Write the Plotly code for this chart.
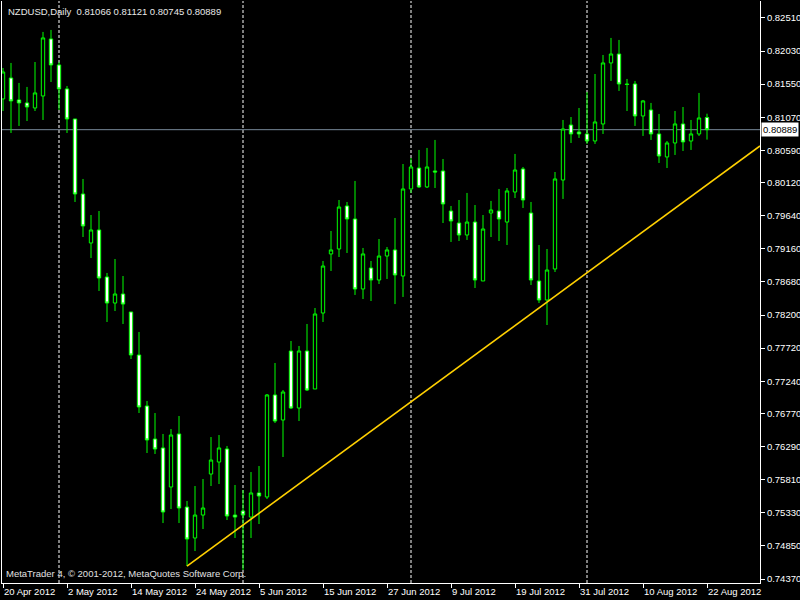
import plotly.graph_objects as go
import pandas as pd

# ---------------- data ----------------
symbol = "NZDUSD"
period = "Daily"
dates = pd.bdate_range("2012-04-20", "2012-08-22")

opens = [0.81335, 0.81639, 0.81320, 0.81277, 0.81204, 0.81378, 0.82205, 0.81828, 0.81480, 0.81044,
         0.79956, 0.79245, 0.79434, 0.78752, 0.78374, 0.78505, 0.78244, 0.77620, 0.76880, 0.76401,
         0.76271, 0.75705, 0.76474, 0.75414, 0.74965, 0.75298, 0.75893, 0.76067, 0.76256, 0.75298,
         0.75356, 0.75269, 0.75618, 0.75560, 0.77040, 0.76677, 0.77678, 0.76851, 0.77678, 0.77127,
         0.78229, 0.79086, 0.79158, 0.79782, 0.79593, 0.78578, 0.78882, 0.78708, 0.79056, 0.79144,
         0.78766, 0.80029, 0.80333, 0.80058, 0.80290, 0.80290, 0.79709, 0.79535, 0.79361, 0.79549,
         0.78694, 0.79680, 0.79709, 0.79549, 0.79985, 0.80319, 0.79680, 0.78694, 0.78418, 0.78868,
         0.80159, 0.80957, 0.80856, 0.80827, 0.80725, 0.80972, 0.81857, 0.81987, 0.81552, 0.81552,
         0.81088, 0.81175, 0.80827, 0.80493, 0.80696, 0.80972, 0.80725, 0.80827, 0.81066]

highs = [0.81784, 0.81857, 0.81567, 0.81509, 0.81871, 0.82307, 0.82336, 0.81871, 0.81523, 0.81044,
         0.80174, 0.79651, 0.79709, 0.78810, 0.79013, 0.78766, 0.78244, 0.77954, 0.76953, 0.76778,
         0.76474, 0.76546, 0.76735, 0.75502, 0.75719, 0.75821, 0.76430, 0.76459, 0.76300, 0.75734,
         0.75661, 0.75922, 0.76009, 0.77054, 0.77504, 0.77112, 0.77823, 0.77751, 0.78070, 0.78302,
         0.78984, 0.79419, 0.79869, 0.79840, 0.80145, 0.79173, 0.78984, 0.79303, 0.79187, 0.79608,
         0.80391, 0.80478, 0.80595, 0.80624, 0.80740, 0.80464, 0.79782, 0.79869, 0.79971, 0.79796,
         0.79651, 0.79855, 0.80029, 0.80043, 0.80537, 0.80348, 0.79840, 0.79216, 0.79158, 0.80275,
         0.81030, 0.81073, 0.81204, 0.81436, 0.81697, 0.81973, 0.82220, 0.82191, 0.81625, 0.81596,
         0.81320, 0.81277, 0.81117, 0.80725, 0.81160, 0.81218, 0.81030, 0.81422, 0.81121]

lows = [0.81160, 0.80841, 0.80943, 0.81015, 0.81160, 0.81030, 0.81581, 0.81175, 0.80841, 0.79840,
        0.79332, 0.79027, 0.78549, 0.78099, 0.78258, 0.78070, 0.77562, 0.76778, 0.76198, 0.76184,
        0.75182, 0.75385, 0.75182, 0.74558, 0.74776, 0.75095, 0.75719, 0.75748, 0.75226, 0.74965,
        0.74500, 0.74965, 0.75168, 0.75531, 0.76633, 0.76140, 0.76836, 0.76662, 0.77098, 0.77127,
        0.78099, 0.78839, 0.79042, 0.79100, 0.78491, 0.78432, 0.78403, 0.78650, 0.78723, 0.78359,
        0.78462, 0.79971, 0.80043, 0.80043, 0.80043, 0.79535, 0.79260, 0.79274, 0.79289, 0.78592,
        0.78694, 0.79332, 0.79274, 0.79216, 0.79898, 0.79753, 0.78636, 0.78374, 0.78055, 0.78824,
        0.79884, 0.80696, 0.80769, 0.80682, 0.80682, 0.80827, 0.81596, 0.81451, 0.81160, 0.80943,
        0.80798, 0.80740, 0.80406, 0.80333, 0.80522, 0.80580, 0.80595, 0.80798, 0.80745]

closes = [0.81726, 0.81306, 0.81277, 0.81218, 0.81422, 0.82220, 0.81828, 0.81480, 0.81044, 0.79956,
          0.79492, 0.79434, 0.78737, 0.78374, 0.78505, 0.78359, 0.77620, 0.76866, 0.76387, 0.76256,
          0.75342, 0.76459, 0.75400, 0.74950, 0.75298, 0.75400, 0.76096, 0.76271, 0.75284, 0.75269,
          0.75298, 0.75618, 0.75574, 0.77040, 0.76662, 0.77083, 0.76851, 0.77678, 0.77112, 0.78215,
          0.78911, 0.79144, 0.79767, 0.79593, 0.78578, 0.79086, 0.78708, 0.79056, 0.79144, 0.78781,
          0.80029, 0.80348, 0.80058, 0.80348, 0.80275, 0.79811, 0.79564, 0.79361, 0.79549, 0.78708,
          0.79448, 0.79724, 0.79593, 0.80000, 0.80304, 0.79869, 0.78708, 0.78418, 0.78853, 0.80174,
          0.80899, 0.80827, 0.80827, 0.80725, 0.81001, 0.81857, 0.81987, 0.81552, 0.81545, 0.81088,
          0.81306, 0.80827, 0.80507, 0.80696, 0.80972, 0.80711, 0.80827, 0.81059, 0.80889]

tick_dates = ["2012-04-20", "2012-05-02", "2012-05-14", "2012-05-24", "2012-06-05", "2012-06-15",
              "2012-06-27", "2012-07-09", "2012-07-19", "2012-07-31", "2012-08-10", "2012-08-22"]

price_ticks = [0.82510, 0.82030, 0.81550, 0.81070, 0.80590, 0.80120, 0.79640, 0.79160, 0.78680,
               0.78200, 0.77720, 0.77240, 0.76770, 0.76290, 0.75810, 0.75330, 0.74850, 0.74370]

trend_dates = ["2012-05-23", "2012-08-22"]
trend_prices = [0.74558, 0.80090]

# ---------------- layout helpers ----------------
FONT = "Liberation Sans"
FS = 9.5
X_RANGE = [-0.125, 94.625]
Y_RANGE = [0.74312, 0.82756]

date_str = [d.strftime("%Y-%m-%d") for d in dates]
pos = {d: i for i, d in enumerate(date_str)}
xi = list(range(len(dates)))

tick_idx = [pos[d] for d in tick_dates]
tick_txt = []
for d in tick_dates:
    t = pd.Timestamp(d)
    tick_txt.append(f"{t.day} {t.strftime('%b %Y')}")

fig = go.Figure()

fig.add_trace(go.Candlestick(
    x=xi, open=opens, high=highs, low=lows, close=closes,
    increasing=dict(line=dict(color="#00FF00", width=1), fillcolor="#000000"),
    decreasing=dict(line=dict(color="#00FF00", width=1), fillcolor="#FFFFFF"),
    whiskerwidth=0, hoverinfo="skip", showlegend=False,
))

# trend line (from anchor points, extended to right edge)
tx0, tx1 = pos[trend_dates[0]], pos[trend_dates[1]]
slope = (trend_prices[1] - trend_prices[0]) / (tx1 - tx0)
tx_end = X_RANGE[1]
fig.add_trace(go.Scatter(
    x=[tx0, tx_end], y=[trend_prices[0], trend_prices[0] + slope * (tx_end - tx0)],
    mode="lines", line=dict(color="#FFD000", width=1.6), hoverinfo="skip", showlegend=False,
))

shapes = []
# monthly period separators
for i in range(1, len(dates)):
    if dates[i].month != dates[i - 1].month:
        shapes.append(dict(type="line", xref="x", yref="paper", x0=i, x1=i, y0=0, y1=1,
                           line=dict(color="#FFFFFF", width=1, dash="3px,2px"), layer="below"))
# bid line
shapes.append(dict(type="line", xref="paper", yref="y", x0=0, x1=1, y0=closes[-1], y1=closes[-1],
                   line=dict(color="#778899", width=1), layer="below"))

annotations = [
    dict(text=f"{symbol},{period}  {opens[-1]:.5f} {highs[-1]:.5f} {lows[-1]:.5f} {closes[-1]:.5f}",
         xref="paper", yref="paper", x=0, y=1, xanchor="left", yanchor="top", xshift=4, yshift=-3,
         showarrow=False, font=dict(family=FONT, size=FS, color="#E8E8E8")),
    dict(text="MetaTrader 4, © 2001-2012, MetaQuotes Software Corp.",
         xref="paper", yref="paper", x=0, y=0, xanchor="left", yanchor="bottom", xshift=2, yshift=2,
         showarrow=False, font=dict(family=FONT, size=FS, color="#E0E0E0")),
    dict(text=f"{closes[-1]:.5f}", xref="paper", yref="y", x=1, y=closes[-1],
         xanchor="left", yanchor="middle", xshift=1, showarrow=False,
         bgcolor="#FFFFFF", borderpad=1, font=dict(family=FONT, size=FS, color="#000000")),
]

fig.update_layout(
    width=800, height=600,
    margin=dict(l=2, r=40, t=1, b=17, autoexpand=False),
    paper_bgcolor="#000000", plot_bgcolor="#000000",
    boxgap=0.4,
    shapes=shapes, annotations=annotations,
    font=dict(family=FONT, size=FS, color="#FFFFFF"),
    xaxis=dict(
        range=X_RANGE, showgrid=False, zeroline=False, rangeslider=dict(visible=False),
        automargin=False, tickangle=0,
        tickmode="array", tickvals=tick_idx, ticktext=tick_txt,
        ticks="outside", ticklen=4, tickcolor="#FFFFFF", tickwidth=1,
        ticklabelposition="outside right",
        showline=True, linecolor="#FFFFFF", linewidth=1,
        tickfont=dict(family=FONT, size=FS, color="#FFFFFF"),
    ),
    yaxis=dict(
        range=Y_RANGE, side="right", showgrid=False, zeroline=False,
        automargin=False,
        tickmode="array", tickvals=price_ticks, ticktext=[f"{v:.5f}" for v in price_ticks],
        ticks="outside", ticklen=4, tickcolor="#FFFFFF", tickwidth=1,
        showline=True, mirror=True, linecolor="#FFFFFF", linewidth=1,
        tickfont=dict(family=FONT, size=FS, color="#FFFFFF"),
    ),
)

fig.write_html("out.html", config={"displayModeBar": False},
               post_script="document.body.style.margin='0';document.body.style.background='#000';")
